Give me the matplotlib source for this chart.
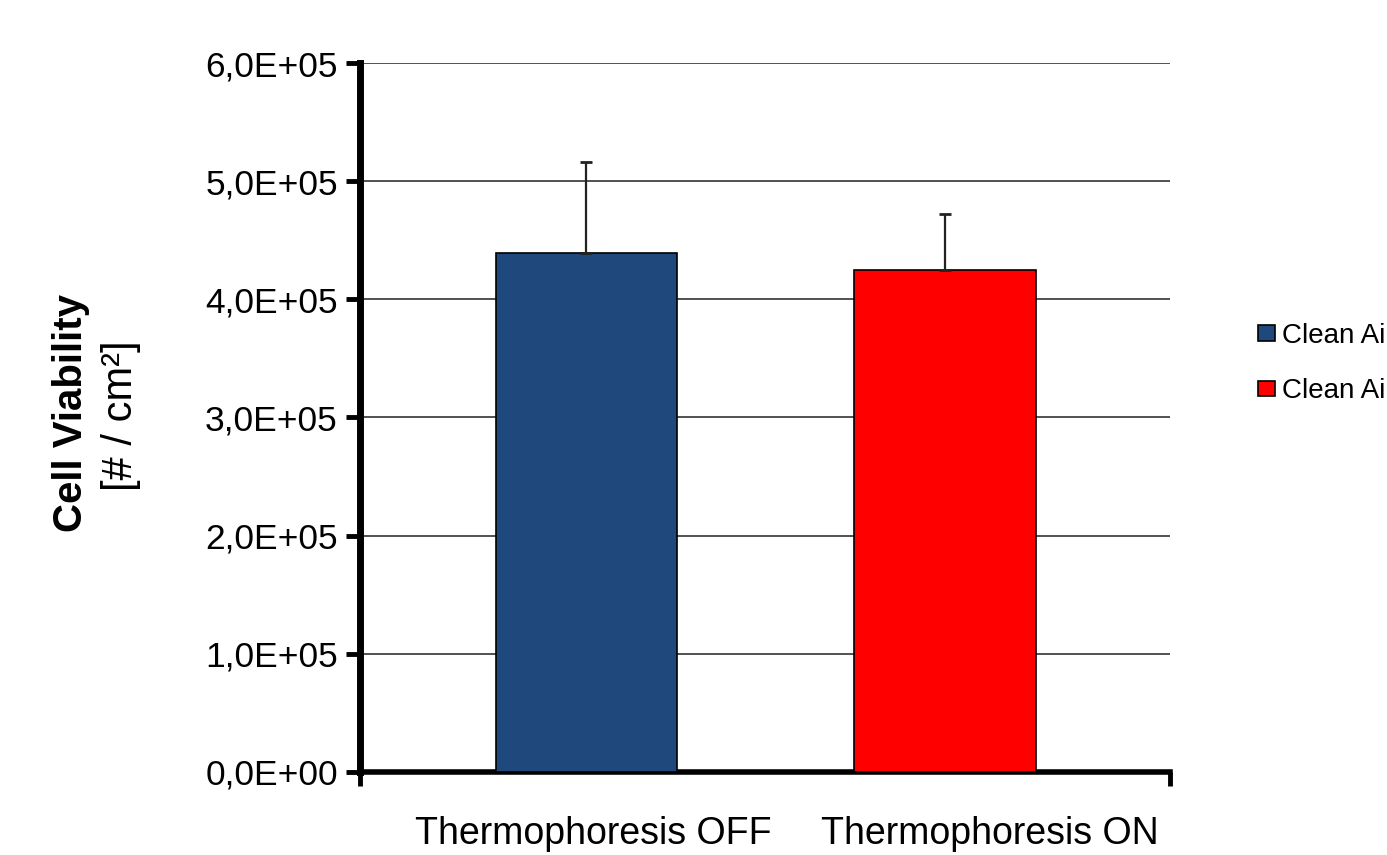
import numpy as np
import matplotlib.pyplot as plt
from matplotlib.ticker import FuncFormatter, MultipleLocator

plt.rcParams['font.family'] = ['Liberation Sans', 'DejaVu Sans']

# Data
categories = ["Thermophoresis OFF", "Thermophoresis ON"]
series_labels = ["Clean Air", "Clean Air"]
viability = np.array([4.39e5, 4.25e5])
viability_err = np.array([0.77e5, 0.47e5])
bar_colors = ["#1F497D", "#FF0000"]

fig = plt.figure(figsize=(13.87, 8.55), dpi=100)
ax = fig.add_axes([0.2596, 0.0971, 0.5840, 0.8292])

x = np.arange(len(categories))
handles = []
for i in range(len(categories)):
    b = ax.bar(x[i], viability[i], width=0.505, color=bar_colors[i],
               edgecolor="black", linewidth=1.2, label=series_labels[i], zorder=3)
    ax.errorbar(x[i], viability[i], yerr=[[0], [viability_err[i]]], fmt="none",
                ecolor="#222222", elinewidth=1.6, capsize=4.5, capthick=2, zorder=4)
    handles.append(b)

ax.set_ylim(0, 6e5)
ax.set_xlim(-0.63, 1.627)
ax.yaxis.set_major_locator(MultipleLocator(1e5))
ax.yaxis.set_major_formatter(FuncFormatter(lambda v, p: f"{v:.1E}".replace(".", ",")))
ax.grid(axis="y", color="#333333", linewidth=1.2, zorder=0)

# category labels, slightly right of bars as in the original
ax.set_xticks(x + np.array([0.02, 0.125]))
ax.set_xticklabels(categories, fontsize=27)
ax.tick_params(axis="x", length=0, pad=32)
ax.set_xticks(ax.get_xlim(), minor=True)
ax.tick_params(axis="x", which="minor", length=10, width=3.5, direction="out")
ax.tick_params(axis="y", length=10, width=3.5, direction="out", labelsize=25.5, pad=6)

for s in ["top", "right"]:
    ax.spines[s].set_visible(False)
ax.spines["left"].set_linewidth(5)
ax.spines["bottom"].set_linewidth(4)

fig.text(0.051, 0.517, "Cell Viability", rotation=90, fontsize=29,
         fontweight="bold", ha="center", va="center")
fig.text(0.087, 0.514, "[# / cm²]", rotation=90, fontsize=30,
         ha="center", va="center")

leg = ax.legend(handles=handles, labels=series_labels, loc="upper left",
                bbox_to_anchor=(0.907, 0.622), bbox_transform=fig.transFigure,
                frameon=False, fontsize=20, handlelength=0.6, handleheight=0.5,
                handletextpad=0.25, labelspacing=1.05, borderaxespad=0,
                borderpad=0)

fig.savefig("out.png", dpi=100)
